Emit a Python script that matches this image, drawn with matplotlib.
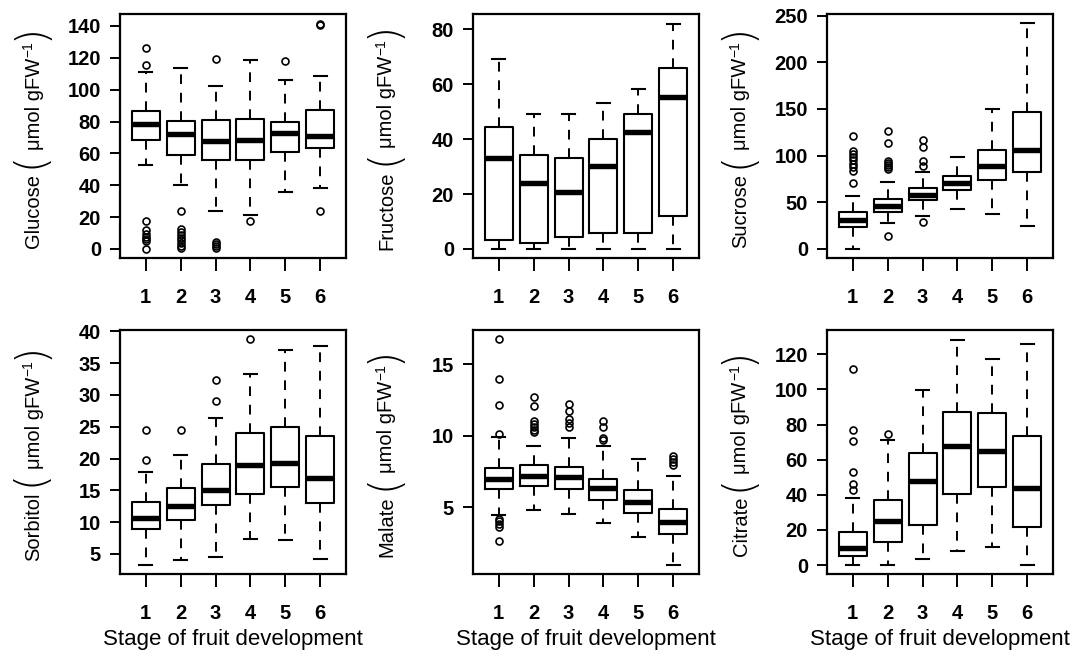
import matplotlib
matplotlib.use("Agg")
import matplotlib.pyplot as plt
from matplotlib.transforms import IdentityTransform

plt.rcParams['font.family'] = ['Liberation Sans', 'DejaVu Sans']

stages = [1, 2, 3, 4, 5, 6]
stage_labels = ['1', '2', '3', '4', '5', '6']
xlabel_text = 'Stage of fruit development'

# ---- Glucose ----
glucose_med = [78.3, 72.0, 67.8, 68.2, 72.8, 71.2]
glucose_q1 = [68.2, 58.8, 56.0, 56.0, 60.8, 63.6]
glucose_q3 = [86.3, 80.4, 80.8, 81.4, 80.0, 87.1]
glucose_lo = [52.9, 39.9, 24.1, 21.0, 35.7, 38.4]
glucose_hi = [110.8, 113.3, 102.4, 118.6, 106.0, 108.7]
glucose_out = [[125.9, 115.6, 17.8, 12.0, 9.4, 7.3, 6.2, 5.2, 0.0],
               [24.1, 12.3, 10.5, 8.5, 7.0, 5.5, 3.5, 2.0, 0.5],
               [119.2, 4.5, 3.3, 2.0, 0.7],
               [17.4],
               [118.1],
               [141.2, 140.8, 24.1]]

# ---- Fructose ----
fructose_med = [33.0, 24.2, 20.9, 30.3, 42.5, 55.3]
fructose_q1 = [3.1, 2.1, 4.3, 5.9, 5.9, 12.1]
fructose_q3 = [44.6, 34.1, 33.3, 40.1, 49.2, 65.8]
fructose_lo = [0.0, 0.0, 0.0, 0.0, 0.0, 0.0]
fructose_hi = [69.3, 49.2, 49.2, 53.3, 58.4, 82.1]
fructose_out = [[], [], [], [], [], []]

# ---- Sucrose ----
sucrose_med = [30.5, 45.5, 58.1, 70.7, 88.6, 105.8]
sucrose_q1 = [23.3, 39.5, 52.0, 63.5, 73.5, 82.1]
sucrose_q3 = [39.1, 53.8, 65.3, 78.6, 105.8, 147.1]
sucrose_lo = [0.0, 27.7, 35.5, 42.7, 37.3, 24.8]
sucrose_hi = [57.0, 71.4, 82.1, 98.3, 150.3, 241.8]
sucrose_out = [[120.9, 104.5, 101.5, 98.0, 95.0, 91.5, 88.0, 84.0, 70.7],
               [126.3, 113.8, 94.7, 92.2, 90.0, 88.0, 85.5, 14.0],
               [116.2, 109.0, 94.0, 88.6, 28.7],
               [], [], []]

# ---- Sorbitol ----
sorbitol_med = [10.7, 12.6, 15.1, 19.0, 19.3, 17.0]
sorbitol_q1 = [8.9, 10.4, 12.75, 14.5, 15.5, 13.0]
sorbitol_q3 = [13.1, 15.3, 19.2, 24.0, 25.0, 23.6]
sorbitol_lo = [3.3, 4.1, 4.6, 7.4, 7.25, 4.2]
sorbitol_hi = [17.9, 20.6, 26.3, 33.3, 37.0, 37.75]
sorbitol_out = [[24.5, 19.7], [24.5], [32.4, 29.1], [38.8], [], []]

# ---- Malate ----
malate_med = [6.99, 7.15, 7.11, 6.33, 5.33, 3.99]
malate_q1 = [6.24, 6.50, 6.24, 5.47, 4.58, 3.13]
malate_q3 = [7.74, 7.93, 7.81, 6.99, 6.17, 4.88]
malate_lo = [4.44, 4.77, 4.53, 3.92, 2.94, 0.95]
malate_hi = [9.92, 9.26, 9.87, 9.28, 8.35, 7.15]
malate_out = [[16.78, 13.99, 12.19, 10.12, 4.2, 4.0, 3.8, 3.6, 2.61],
              [12.72, 12.1, 11.04, 10.8, 10.6, 10.44, 10.27],
              [12.26, 11.72, 11.2, 10.92, 10.62],
              [11.04, 10.62, 9.87, 9.68],
              [],
              [8.55, 8.35, 8.15, 7.95]]

# ---- Citrate ----
citrate_med = [9.7, 24.9, 47.6, 67.6, 64.9, 44.0]
citrate_q1 = [4.9, 13.3, 22.9, 40.6, 44.3, 21.5]
citrate_q3 = [18.8, 37.3, 63.8, 87.2, 86.6, 73.3]
citrate_lo = [0.0, 0.0, 3.4, 7.8, 10.5, 0.0]
citrate_hi = [38.1, 71.4, 99.6, 128.2, 117.3, 125.7]
citrate_out = [[111.6, 76.7, 70.4, 52.9, 45.9, 42.8], [74.5], [], [], [], []]

panels = [
    ("Glucose", glucose_med, glucose_q1, glucose_q3, glucose_lo, glucose_hi, glucose_out,
     (-5.7, 147.5), [0, 20, 40, 60, 80, 100, 120, 140]),
    ("Fructose", fructose_med, fructose_q1, fructose_q3, fructose_lo, fructose_hi, fructose_out,
     (-3.3, 85.6), [0, 20, 40, 60, 80]),
    ("Sucrose", sucrose_med, sucrose_q1, sucrose_q3, sucrose_lo, sucrose_hi, sucrose_out,
     (-9.7, 251.7), [0, 50, 100, 150, 200, 250]),
    ("Sorbitol", sorbitol_med, sorbitol_q1, sorbitol_q3, sorbitol_lo, sorbitol_hi, sorbitol_out,
     (1.85, 40.2), [5, 10, 15, 20, 25, 30, 35, 40]),
    ("Malate", malate_med, malate_q1, malate_q3, malate_lo, malate_hi, malate_out,
     (0.32, 17.41), [5, 10, 15]),
    ("Citrate", citrate_med, citrate_q1, citrate_q3, citrate_lo, citrate_hi, citrate_out,
     (-5.1, 133.8), [0, 20, 40, 60, 80, 100, 120]),
]

W, H = 1080, 664
fig = plt.figure(figsize=(W / 100, H / 100), dpi=100)

col_left = [120, 473, 827]
ax_w = 226
row_top = [14, 330]
ax_h = 244

px = 0.72  # points per pixel at dpi 100

axes = []
for i, p in enumerate(panels):
    name, med, q1, q3, lo, hi, out, ylim, yticks = p
    r, c = divmod(i, 3)
    left = col_left[c] / W
    bottom = 1 - (row_top[r] + ax_h) / H
    ax = fig.add_axes([left, bottom, ax_w / W, ax_h / H])
    stats = []
    for k in range(len(stages)):
        stats.append(dict(med=med[k], q1=q1[k], q3=q3[k], whislo=lo[k], whishi=hi[k],
                          fliers=out[k]))
    ax.bxp(stats, positions=stages, widths=0.8, capwidths=0.38, showfliers=True,
           boxprops=dict(color='black', lw=1.5),
           whiskerprops=dict(color='black', lw=1.4, linestyle=(0, (5, 4.5))),
           capprops=dict(color='black', lw=1.5),
           medianprops=dict(color='black', lw=3.9, solid_capstyle='butt'),
           flierprops=dict(marker='o', markerfacecolor='none', markeredgecolor='black',
                           markersize=5, markeredgewidth=1.2))
    ax.set_xlim(0.26, 6.74)
    ax.set_ylim(*ylim)
    ax.set_yticks(yticks)
    ax.set_yticklabels([str(t) for t in yticks], fontsize=14.5, fontweight='bold')
    ax.set_xticks(stages)
    ax.set_xticklabels(stage_labels, fontsize=14.5, fontweight='bold')
    ax.tick_params(axis='y', length=10 * px, width=1.4, pad=9 * px, direction='out')
    ax.tick_params(axis='x', length=13 * px, width=1.4, pad=17 * px, direction='out')
    for s in ax.spines.values():
        s.set_linewidth(1.6)
    if r == 1:
        ax.annotate(xlabel_text, xy=(0.5, 0), xycoords='axes fraction',
                    xytext=(0, -71.5 * px), textcoords='offset points',
                    ha='center', va='baseline', fontsize=16)
    axes.append((ax, name))

# y labels assembled from pieces: Name ( µmol gFW^-1 )
fig.canvas.draw()
renderer = fig.canvas.get_renderer()
for ax, name in axes:
    bb = ax.get_position()
    x_base = bb.x0 * W - 80.5
    yc = (bb.y0 + bb.y1) / 2 * H
    parts = [(name, 14.5, 0, 6, False),
             ("(", 30, -3.5, 1, True),
             ("\u03bcmol gFW", 14.5, 0, 1, False),
             ("\u22121", 10, 7.5, 1, False),
             (")", 30, -3.5, 0, True)]
    texts = []
    total = 0
    for s, fs, rise, gap, paren in parts:
        kw = {}
        if paren:
            kw = dict(family=['DejaVu Sans'], fontweight='light')
        t = fig.text(0, 0, s, fontsize=fs, rotation=90, rotation_mode='anchor',
                     ha='left', va='baseline', transform=IdentityTransform(), **kw)
        ext = t.get_window_extent(renderer)
        texts.append((t, ext.height, rise, gap))
        total += ext.height + gap
    total -= parts[-1][3]
    y = yc - total / 2
    for t, ln, rise, gap in texts:
        t.set_position((x_base - rise, y))
        y += ln + gap

fig.savefig("out.png", dpi=100)
